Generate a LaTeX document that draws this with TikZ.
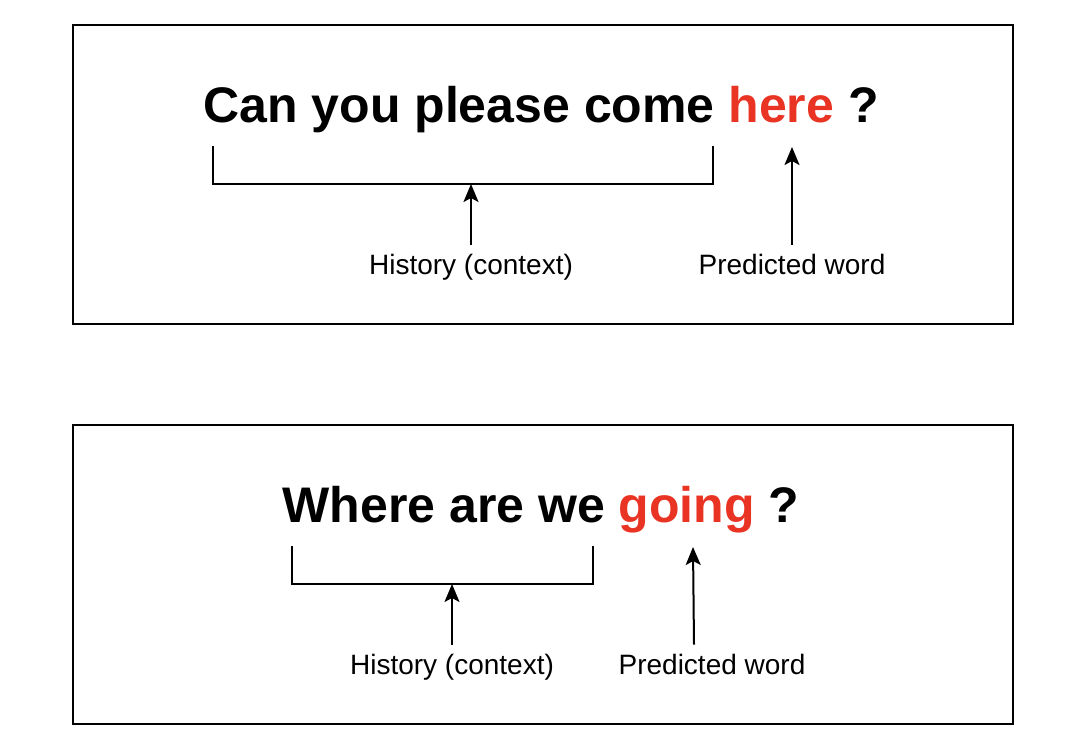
\documentclass[tikz,border=0pt]{standalone}
\usepackage{fontspec}
\setmainfont{Liberation Sans}
\usetikzlibrary{arrows.meta}
\definecolor{wordred}{RGB}{233,51,35}
\tikzset{
  panel/.style={draw, line width=1.5pt},
  sentence/.style={font=\fontsize{50}{58}\selectfont\bfseries, anchor=base, inner sep=0pt},
  caption/.style={font=\fontsize{28}{33}\selectfont, anchor=base, inner sep=9pt},
  bracket/.style={line width=2pt},
  pointer/.style={line width=2pt, -{Stealth[length=18pt, width=15pt, inset=4pt]}},
}

\begin{document}
\begin{tikzpicture}[x=1pt, y=-1pt]
    \useasboundingbox (0,0) rectangle (1068,750);

    % upper panel
    \draw[panel] (73,25) rectangle (1013,324);
    \node[sentence] (sentA) at (541,122) {Can you please come \textcolor{wordred}{here} ?};

    \coordinate (brAleft) at (213,146);
    \coordinate (brAright) at (713,146);
    \draw[bracket] (brAleft) -- ++(0,38) -| (brAright);

    \node[caption] (histA) at (471,274) {History (context)};
    \node[caption] (predA) at (792,274) {Predicted word};
    \coordinate (histAtip) at (histA.north |- 0,184);
    \coordinate (predAtip) at (792,147);
    \draw[pointer] (histA.north) -- (histAtip);
    \draw[pointer] (predA.north) -- (predAtip);

    % lower panel
    \draw[panel] (73,425) rectangle (1013,724);
    \node[sentence] (sentB) at (541,522) {Where are we \textcolor{wordred}{going} ?};

    \coordinate (brBleft) at (292,546);
    \coordinate (brBright) at (593,546);
    \draw[bracket] (brBleft) -- ++(0,38) -| (brBright);

    \node[caption] (histB) at (452,674) {History (context)};
    \node[caption] (predB) at (712,674) {Predicted word};
    \coordinate (histBtip) at (histB.north |- 0,584);
    \coordinate (predBtip) at (693,547);
    \draw[pointer] ([xshift=-18pt]predB.north) -- (predBtip);
    \draw[pointer] (histB.north) -- (histBtip);

\end{tikzpicture}
\end{document}
